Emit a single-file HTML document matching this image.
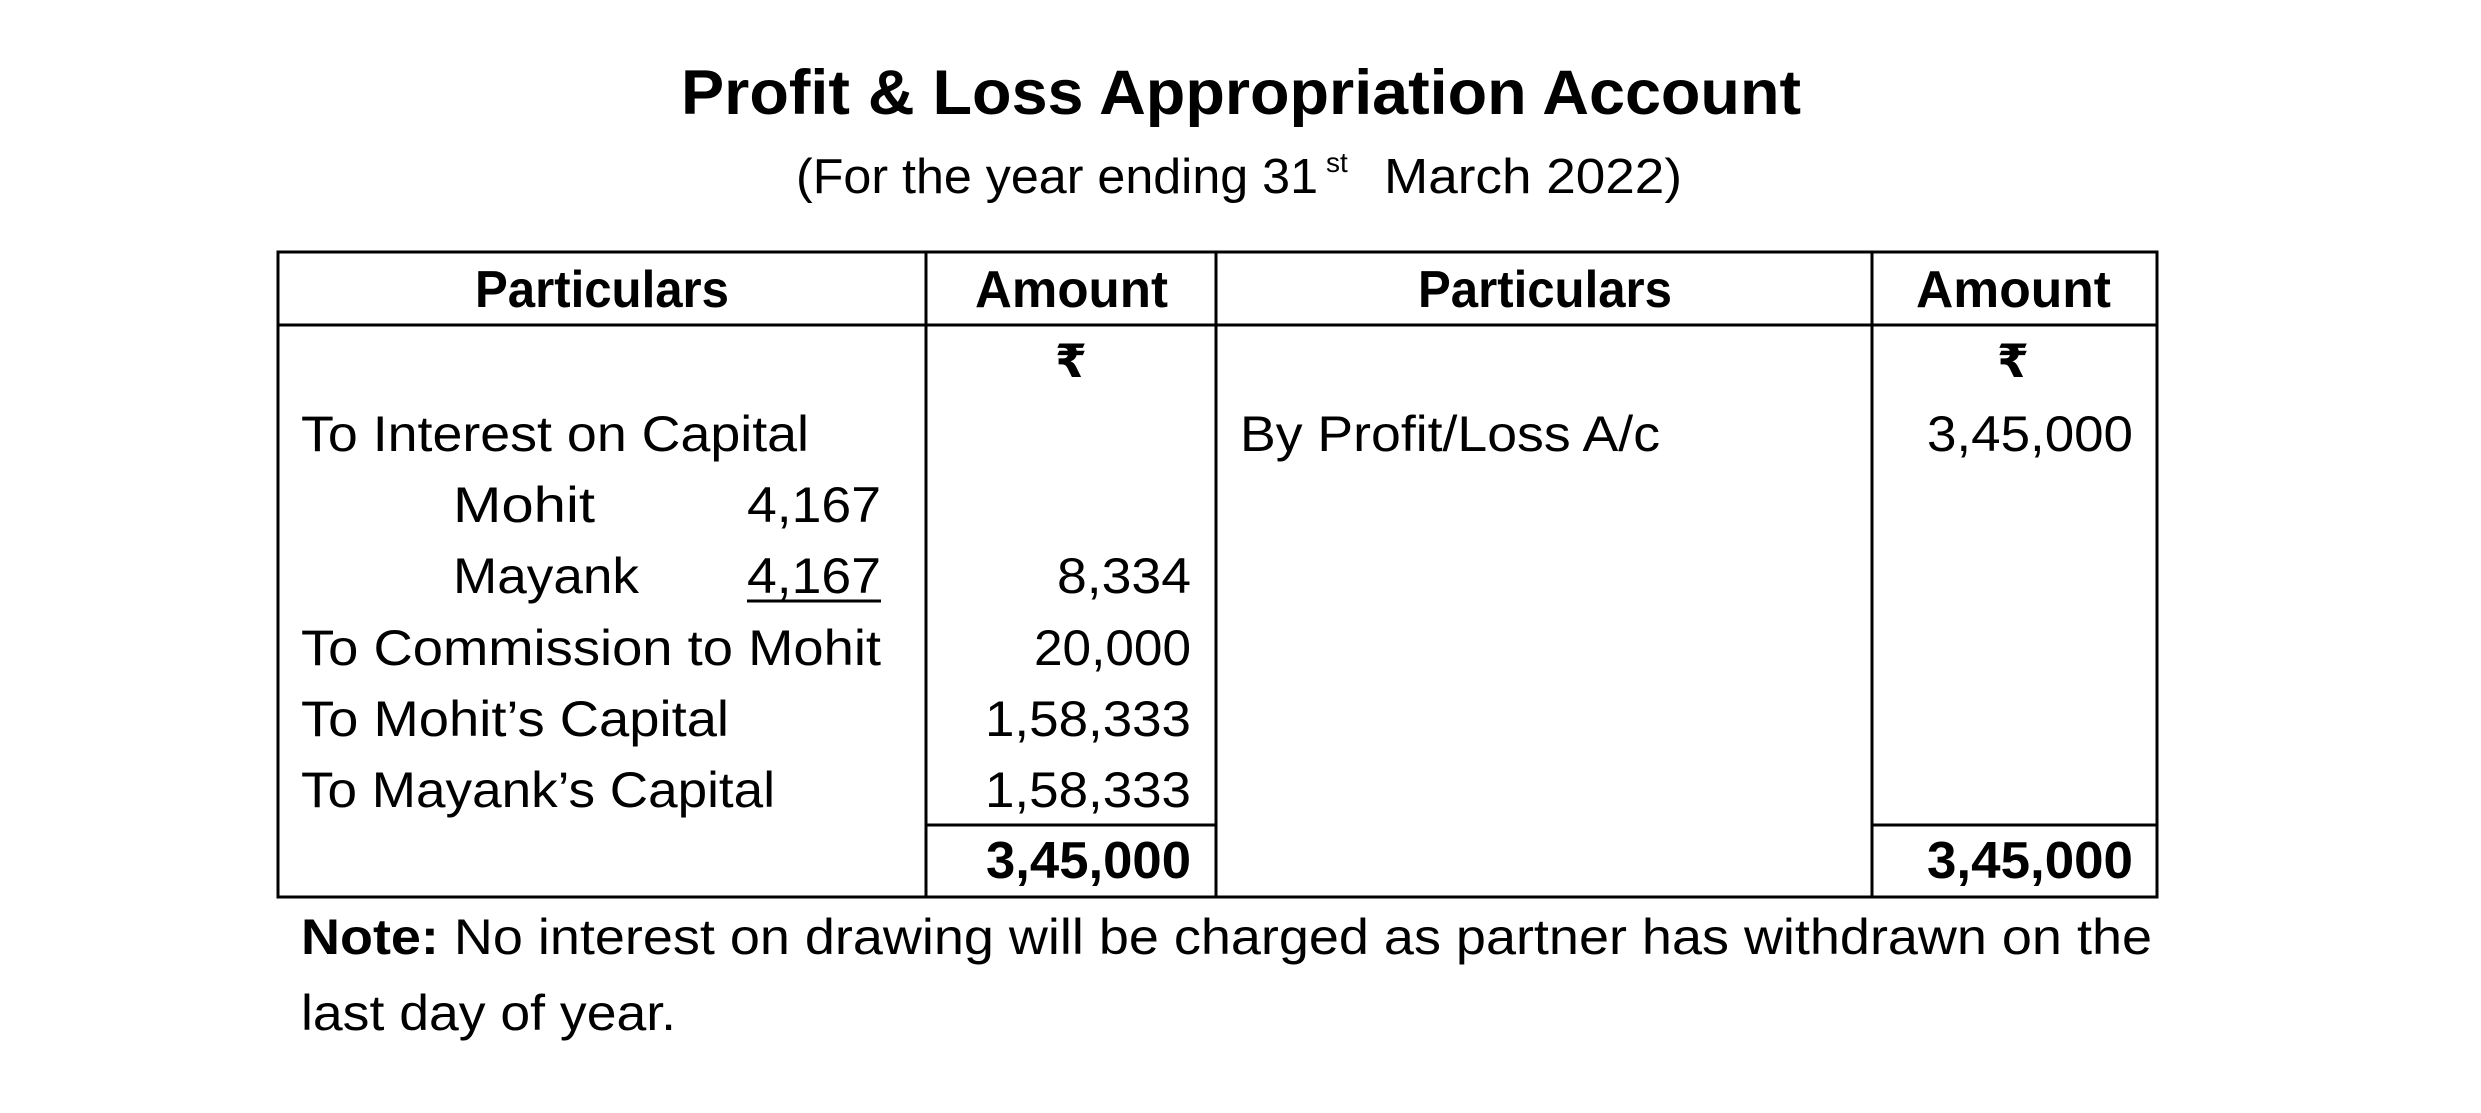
<!DOCTYPE html>
<html><head><meta charset="utf-8"><style>html,body{margin:0;padding:0;background:#fff}svg{display:block}</style></head>
<body>
<svg width="2481" height="1113" viewBox="0 0 2481 1113" xmlns="http://www.w3.org/2000/svg" font-family="'Liberation Sans', 'DejaVu Sans', sans-serif" fill="#000">
<rect width="2481" height="1113" fill="#fff"/>
<g stroke="#000" stroke-width="3" fill="none">
<rect x="278" y="252" width="1879" height="645"/>
<line x1="278" y1="325" x2="2157" y2="325"/>
<line x1="926" y1="252" x2="926" y2="897"/>
<line x1="1216" y1="252" x2="1216" y2="897"/>
<line x1="1872" y1="252" x2="1872" y2="897"/>
<line x1="926" y1="825" x2="1216" y2="825"/>
<line x1="1872" y1="825" x2="2157" y2="825"/>
<line x1="747" y1="601" x2="881" y2="601"/>
</g>
<text x="681" y="114" font-size="63" font-weight="bold" textLength="1120" lengthAdjust="spacingAndGlyphs">Profit &amp; Loss Appropriation Account</text>
<text x="796" y="193" font-size="49" textLength="522" lengthAdjust="spacingAndGlyphs">(For the year ending 31</text>
<text x="1326" y="172" font-size="28">st</text>
<text x="1384" y="193" font-size="49" textLength="298" lengthAdjust="spacingAndGlyphs">March 2022)</text>
<g font-weight="bold" font-size="52">
<text x="475" y="307" textLength="254" lengthAdjust="spacingAndGlyphs">Particulars</text>
<text x="975" y="307" textLength="193" lengthAdjust="spacingAndGlyphs">Amount</text>
<text x="1418" y="307" textLength="254" lengthAdjust="spacingAndGlyphs">Particulars</text>
<text x="1916" y="307" textLength="195" lengthAdjust="spacingAndGlyphs">Amount</text>
<text x="1071" y="377" font-size="46" text-anchor="middle">₹</text>
<text x="2013" y="377" font-size="46" text-anchor="middle">₹</text>
<text x="986" y="878" textLength="205" lengthAdjust="spacingAndGlyphs">3,45,000</text>
<text x="1927" y="878" textLength="206" lengthAdjust="spacingAndGlyphs">3,45,000</text>
</g>
<g font-size="50">
<text x="301" y="451" textLength="508" lengthAdjust="spacingAndGlyphs">To Interest on Capital</text>
<text x="453" y="522" textLength="142" lengthAdjust="spacingAndGlyphs">Mohit</text>
<text x="747" y="522" textLength="134" lengthAdjust="spacingAndGlyphs">4,167</text>
<text x="453" y="593" textLength="186" lengthAdjust="spacingAndGlyphs">Mayank</text>
<text x="747" y="593" textLength="134" lengthAdjust="spacingAndGlyphs">4,167</text>
<text x="1191" y="593" text-anchor="end" textLength="134" lengthAdjust="spacingAndGlyphs">8,334</text>
<text x="301" y="665" textLength="580" lengthAdjust="spacingAndGlyphs">To Commission to Mohit</text>
<text x="1191" y="665" text-anchor="end" textLength="157" lengthAdjust="spacingAndGlyphs">20,000</text>
<text x="301" y="736" textLength="428" lengthAdjust="spacingAndGlyphs">To Mohit’s Capital</text>
<text x="1191" y="736" text-anchor="end" textLength="206" lengthAdjust="spacingAndGlyphs">1,58,333</text>
<text x="301" y="807" textLength="474" lengthAdjust="spacingAndGlyphs">To Mayank’s Capital</text>
<text x="1191" y="807" text-anchor="end" textLength="206" lengthAdjust="spacingAndGlyphs">1,58,333</text>
<text x="1240" y="451" textLength="420" lengthAdjust="spacingAndGlyphs">By Profit/Loss A/c</text>
<text x="2133" y="451" text-anchor="end" textLength="206" lengthAdjust="spacingAndGlyphs">3,45,000</text>
<text x="301" y="954" textLength="1851" lengthAdjust="spacingAndGlyphs"><tspan font-weight="bold">Note:</tspan> No interest on drawing will be charged as partner has withdrawn on the</text>
<text x="301" y="1030" textLength="375" lengthAdjust="spacingAndGlyphs">last day of year.</text>
</g>
</svg>
</body></html>
